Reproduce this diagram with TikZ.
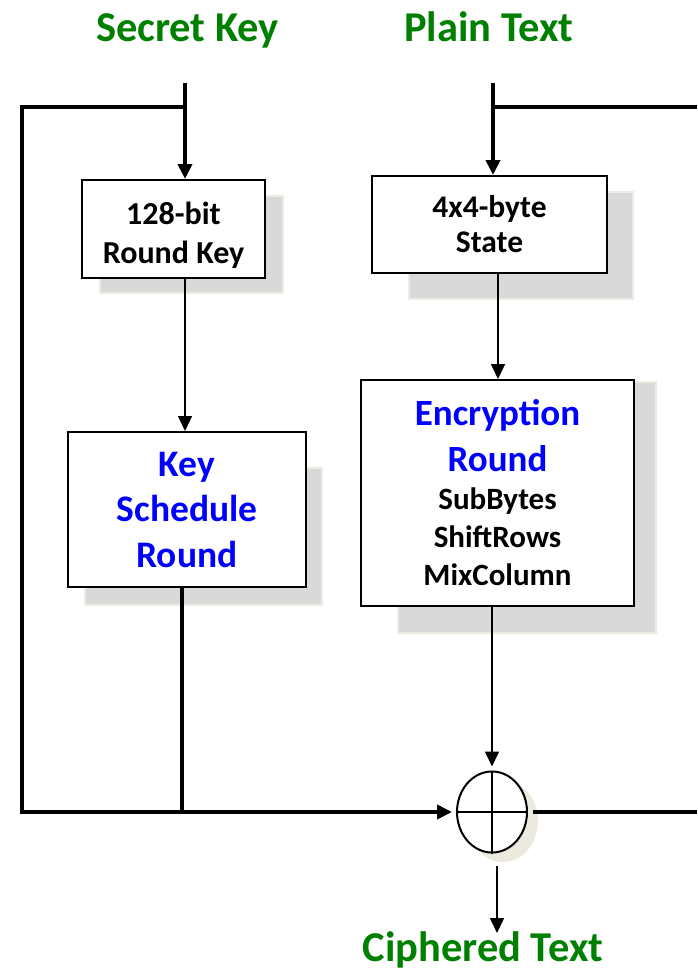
\documentclass[tikz,border=0pt]{standalone}
\usepackage{fontspec}
\setmainfont{Carlito}
\usetikzlibrary{arrows.meta,shapes.geometric}

\definecolor{titlegreen}{RGB}{0,128,0}
\definecolor{roundblue}{RGB}{0,0,255}
\definecolor{shadowgray}{RGB}{217,217,217}
\definecolor{shadowedge}{RGB}{238,236,226}
\definecolor{ringshadow}{RGB}{236,233,222}

\tikzset{
  title/.style={text=titlegreen, font=\fontsize{42.5}{50}\selectfont\bfseries, anchor=base, inner sep=0pt},
  stagebox/.style={draw=black, line width=2pt, fill=white, inner sep=0pt, align=center,
                   font=\bfseries},
  boxshadow/.style={fill=shadowgray, draw=shadowedge, line width=1.5pt},
  bus/.style={line width=4pt},
  wire/.style={line width=1.6pt},
  tip/.style={-{Triangle[length=15pt,width=14pt]}},
}

\begin{document}
\begin{tikzpicture}[x=1pt,y=-1pt]
\useasboundingbox (0,0) rectangle (697,971);

% titles
\node[title] (skey)   at (187.5,42) {Secret Key};
\node[title] (ptext)  at (489,42)   {Plain Text};
\node[title] (ctext)  at (483,961)  {Ciphered Text};

% drop shadows behind the boxes
\fill[boxshadow] (100,196) rectangle (283,293);
\fill[boxshadow] (85,468)  rectangle (322,605);
\fill[boxshadow] (409,192) rectangle (633,299);
\fill[boxshadow] (398,382) rectangle (656,633);
\fill[ringshadow] (503,821) ellipse [x radius=35, y radius=41];

% key side
\node[stagebox, minimum width=183, minimum height=98,
      font=\bfseries\fontsize{32}{39}\selectfont] (rkey) at (173.5,229)
  {\\[-3pt]128-bit\\Round Key};
\node[stagebox, minimum width=238, minimum height=155, text=roundblue,
      font=\bfseries\fontsize{37.5}{45.5}\selectfont] (ksched) at (187,509.5)
  {Key\\Schedule\\Round};

% data side
\node[stagebox, minimum width=235, minimum height=97,
      font=\bfseries\fontsize{31.5}{35}\selectfont] (state) at (489.5,224.5)
  {4x4-byte\\State};
\node[stagebox, minimum width=273, minimum height=226,
      font=\bfseries\fontsize{31}{38}\selectfont] (enc) at (497.5,493)
  {\textcolor{roundblue}{\fontsize{37}{46}\selectfont Encryption}\\[8pt]
   \textcolor{roundblue}{\fontsize{37}{46}\selectfont Round}\\
   SubBytes\\ShiftRows\\MixColumn};

% XOR
\node[ellipse, draw=black, line width=2pt, fill=white,
      minimum width=70, minimum height=81, inner sep=0pt] (xor) at (492,812) {};
\draw[line width=1.6pt] (xor.north) -- (xor.south);
\draw[line width=1.6pt] (xor.west) -- (xor.east);

% coordinates of the buses
\coordinate (ksrc)  at (185,83);
\coordinate (ktap)  at (185,107);
\coordinate (lcorn) at (22,107);
\coordinate (lbot)  at (22,812);
\coordinate (kjoin) at (182,812);
\coordinate (psrc)  at (493,83);
\coordinate (ptap)  at (493,107);
\coordinate (rtop)  at (697,107);
\coordinate (rbot)  at (697,812);
\coordinate (cout)  at (497,933);

% key path
\draw[bus, tip] (ksrc) -- (ksrc |- rkey.north);
\draw[bus] (ktap) -- (lcorn) -- (lbot) -- (kjoin);
\draw[bus, tip, shorten >=4pt] (kjoin) -- (xor.west);
\draw[wire, tip] (rkey.south -| ksrc) -- (ksched.north -| ksrc);
\draw[bus] (ksched.south -| kjoin) -- (kjoin);

% data path
\draw[bus, tip] (psrc) -- (psrc |- state.north);
\draw[bus] (ptap) -- (rtop);
\draw[wire, tip] (state.south -| 498,0) -- (enc.north -| 498,0);
\draw[wire, tip, shorten >=4pt] (enc.south -| xor) -- (xor.north);
\draw[bus, shorten <=5pt] (xor.east) -- (rbot);
\draw[wire, tip, shorten <=12pt] (xor.south -| cout) -- (cout);
\end{tikzpicture}
\end{document}
